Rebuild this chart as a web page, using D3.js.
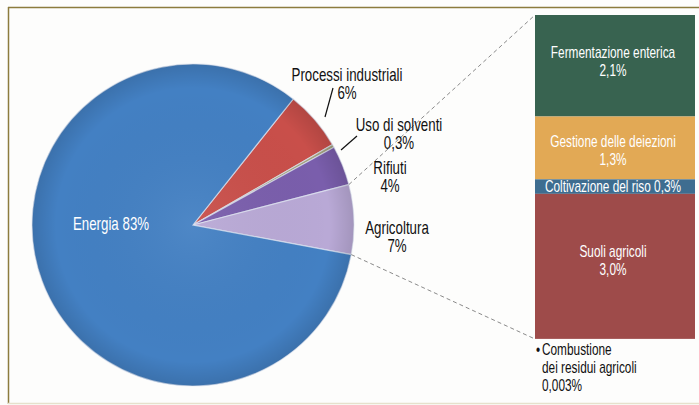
<!DOCTYPE html>
<html>
<head>
<meta charset="utf-8">
<script src="https://cdn.jsdelivr.net/npm/d3@7"></script>
<style>
  html, body { margin: 0; padding: 0; background: #fff; }
  svg { display: block; font-family: "Liberation Sans", Arial, sans-serif; }
</style>
</head>
<body>
<script>
// emissioni per settore (%)
const sectors = ["Processi industriali", "Uso di solventi", "Rifiuti", "Agricoltura", "Energia"];
const shares = [6, 0.3, 4, 7, 83];
const shareLabels = ["6%", "0,3%", "4%", "7%", "83%"];

// dettaglio agricoltura (%)
const agriParts = ["Fermentazione enterica", "Gestione delle deiezioni", "Coltivazione del riso", "Suoli agricoli", "Combustione dei residui agricoli"];
const agriShares = [2.1, 1.3, 0.3, 3.0, 0.003];
const agriLabels = ["2,1%", "1,3%", "0,3%", "3,0%", "0,003%"];

const width = 699, height = 405;
const cx = 193, cy = 225, r = 161;
const sx = 0.74; // font condensato

const pieColors = ["#c94f4a", "#a3a27e", "#7a5eac", "#b9a9d6", "#4380c3"];
const barColors = ["#386350", "#e2a955", "#3e6d90", "#9e4b4a", "#9e4b4a"];

const svg = d3.select("body").append("svg")
    .attr("width", width)
    .attr("height", height);

svg.append("rect").attr("width", width).attr("height", height).attr("fill", "#fdfdfc");

// cornice
svg.append("line").attr("x1", 8).attr("x2", width).attr("y1", 7.5).attr("y2", 7.5)
    .attr("stroke", "#8c7b3d").attr("stroke-width", 1.5);
svg.append("line").attr("x1", 8.5).attr("x2", 8.5).attr("y1", 7).attr("y2", 404)
    .attr("stroke", "#8c7b3d").attr("stroke-width", 1.5);
svg.append("line").attr("x1", 8).attr("x2", width).attr("y1", 403.5).attr("y2", 403.5)
    .attr("stroke", "#e6e1cc").attr("stroke-width", 1.5);

const defs = svg.append("defs");
const shade = defs.append("radialGradient").attr("id", "shade")
    .attr("cx", "50%").attr("cy", "50%").attr("r", "50%");
shade.append("stop").attr("offset", "0%").attr("stop-color", "#fff").attr("stop-opacity", 0.06);
shade.append("stop").attr("offset", "85%").attr("stop-color", "#000").attr("stop-opacity", 0.0);
shade.append("stop").attr("offset", "100%").attr("stop-color", "#000").attr("stop-opacity", 0.12);

const deg = Math.PI / 180;
const pie = d3.pie().sort(null)
    .startAngle(38.5 * deg)
    .endAngle(398.5 * deg);
const arcs = pie(shares);
const arc = d3.arc().innerRadius(0).outerRadius(r);

const g = svg.append("g").attr("transform", `translate(${cx},${cy})`);
g.selectAll("path.slice")
    .data(arcs)
    .join("path")
    .attr("class", "slice")
    .attr("d", arc)
    .attr("fill", (d, i) => pieColors[i])
    .attr("stroke", "#dfe6f2")
    .attr("stroke-width", 1.2)
    .attr("stroke-opacity", 0.7);
g.append("circle").attr("r", r).attr("fill", "url(#shade)");

// barra agricoltura
const total = d3.sum(agriShares);
const y = d3.scaleLinear().domain([0, total]).range([15, 339]);
const barX = 535, barW = 160;
let acc = 0;
const stack = agriShares.map((v, i) => {
    const s = { i, y0: acc, y1: acc + v };
    acc += v;
    return s;
});

// linee tratteggiate di collegamento
const agri = arcs[3];
const pTop = d3.pointRadial(agri.startAngle, r);
const pBot = d3.pointRadial(agri.endAngle, r);
svg.append("line")
    .attr("x1", cx + pTop[0]).attr("y1", cy + pTop[1])
    .attr("x2", barX).attr("y2", y(0))
    .attr("stroke", "#8a8a8a").attr("stroke-width", 1).attr("stroke-dasharray", "4,3");
svg.append("line")
    .attr("x1", cx + pBot[0]).attr("y1", cy + pBot[1])
    .attr("x2", barX).attr("y2", y(total))
    .attr("stroke", "#8a8a8a").attr("stroke-width", 1).attr("stroke-dasharray", "4,3");

svg.append("g").selectAll("rect")
    .data(stack)
    .join("rect")
    .attr("x", barX)
    .attr("width", barW)
    .attr("y", d => y(d.y0))
    .attr("height", d => y(d.y1) - y(d.y0))
    .attr("fill", d => barColors[d.i]);

// testo condensato: righe multiple, scala orizzontale
function label(x, y0, lines, opt) {
    const o = Object.assign({ size: 18, lh: 18, fill: "#111", anchor: "middle" }, opt);
    const t = svg.append("text")
        .attr("transform", `translate(${x},${y0}) scale(${sx},1)`)
        .attr("text-anchor", o.anchor)
        .attr("fill", o.fill)
        .attr("font-size", o.size);
    lines.forEach((s, k) => t.append("tspan").attr("x", 0).attr("y", k * o.lh).text(s));
    return t;
}

// etichette barra
const barMid = barX + barW / 2 - 2;
const nudge = { 0: -8, 1: -1, 3: -9 };
[0, 1, 3].forEach(i => {
    const m = (y(stack[i].y0) + y(stack[i].y1)) / 2;
    label(barMid, m + nudge[i], [agriParts[i], agriLabels[i]], { size: 16, lh: 18, fill: "#fff" });
});
label(barMid, (y(stack[2].y0) + y(stack[2].y1)) / 2 + 5,
    [`${agriParts[2]} ${agriLabels[2]}`], { size: 16, fill: "#fff" });

// combustione residui
label(536, 355, ["•"], { size: 16, anchor: "start" });
label(542, 355, ["Combustione", "dei residui agricoli", agriLabels[4]], { size: 16, lh: 18, anchor: "start" });

// etichette torta
label(111, 230, [`${sectors[4]} ${shareLabels[4]}`], { fill: "#fff" });
label(347, 81, [sectors[0], shareLabels[0]]);
label(399, 131, [sectors[1], shareLabels[1]]);
label(390, 174, [sectors[2], shareLabels[2]]);
label(397, 234, [sectors[3], shareLabels[3]]);

// linee guida
svg.append("line").attr("x1", 333).attr("y1", 88).attr("x2", 325).attr("y2", 117)
    .attr("stroke", "#111").attr("stroke-width", 1.2);
svg.append("line").attr("x1", 357).attr("y1", 136).attr("x2", 341).attr("y2", 150)
    .attr("stroke", "#111").attr("stroke-width", 1.2);
</script>
</body>
</html>
